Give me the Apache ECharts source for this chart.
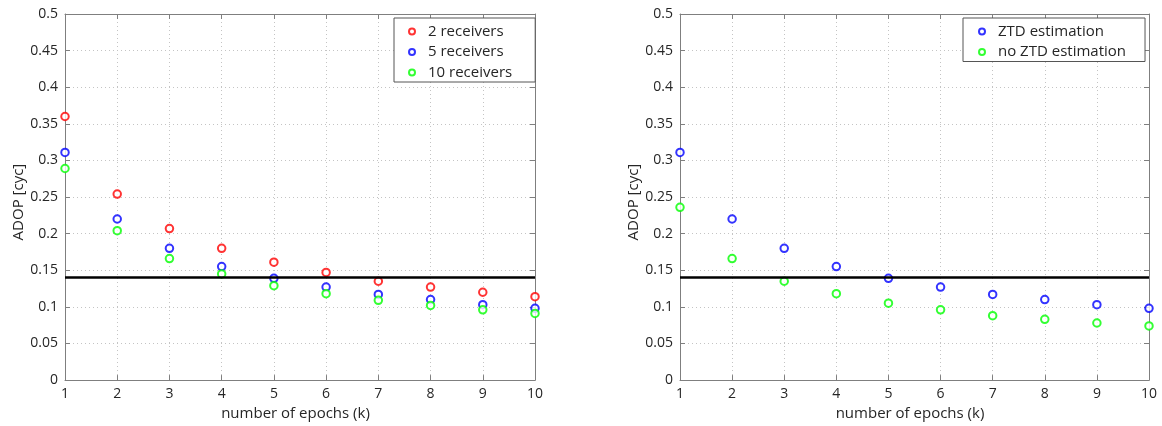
<!DOCTYPE html>
<html>
<head>
<meta charset="utf-8">
<script src="https://cdn.jsdelivr.net/npm/echarts@6/dist/echarts.min.js"></script>
<style>
html,body{margin:0;padding:0;background:#fff;}
#chart{width:1162px;height:426px;}
</style>
</head>
<body>
<div id="chart"></div>
<script>
// ---- data ----
const epochs = [1, 2, 3, 4, 5, 6, 7, 8, 9, 10];
const recv2  = [0.360, 0.254, 0.207, 0.180, 0.161, 0.147, 0.135, 0.127, 0.120, 0.114];
const recv5  = [0.311, 0.220, 0.180, 0.155, 0.139, 0.127, 0.117, 0.110, 0.103, 0.098];
const recv10 = [0.289, 0.204, 0.166, 0.145, 0.129, 0.118, 0.109, 0.102, 0.096, 0.091];
const ztd    = [0.311, 0.220, 0.180, 0.155, 0.139, 0.127, 0.117, 0.110, 0.103, 0.098];
const noZtd  = [0.236, 0.166, 0.135, 0.118, 0.105, 0.096, 0.088, 0.083, 0.078, 0.074];
const threshold = 0.14;
const leftNames = ['2 receivers', '5 receivers', '10 receivers'];
const rightNames = ['ZTD estimation', 'no ZTD estimation'];
const xName = 'number of epochs (k)';
const yName = 'ADOP [cyc]';

const pairs = (ys) => epochs.map((x, i) => [x, ys[i]]);
const FONT = '"Open Sans", "DejaVu Sans", sans-serif';
const TXT = '#262626';
const AX = '#7f7f7f';

function xAx(grid, top) {
  return {
    type: 'value', gridIndex: grid, min: 1, max: 10, interval: 1,
    position: top ? 'top' : 'bottom',
    name: top ? '' : xName, nameLocation: 'middle', nameGap: 23,
    nameTextStyle: { fontFamily: FONT, fontSize: 15, color: TXT, padding: [0, 9, 0, 0] },
    axisLine: { show: true, onZero: false, lineStyle: { color: AX, width: 1 } },
    axisTick: { show: true, inside: true, length: 5, lineStyle: { color: AX } },
    axisLabel: { show: !top, fontFamily: FONT, fontSize: 14, color: TXT, margin: 7 },
    splitLine: { show: !top, lineStyle: { color: '#c4c4c4', type: [1, 3], width: 1 } }
  };
}
function yAx(grid, right) {
  return {
    type: 'value', gridIndex: grid, min: 0, max: 0.5, interval: 0.05,
    position: right ? 'right' : 'left',
    name: right ? '' : yName, nameLocation: 'middle', nameGap: 39, nameRotate: 90,
    nameTextStyle: { fontFamily: FONT, fontSize: 15, color: TXT, padding: [0, 10, 0, 0] },
    axisLine: { show: true, onZero: false, lineStyle: { color: AX, width: 1 } },
    axisTick: { show: true, inside: true, length: 5, lineStyle: { color: AX } },
    axisLabel: { show: !right, fontFamily: FONT, fontSize: 14, color: TXT, margin: 7,
      formatter: v => String(+v.toFixed(2)) },
    splitLine: { show: !right, lineStyle: { color: '#c4c4c4', type: [1, 3], width: 1 } }
  };
}
function sc(name, data, color, xi, yi, withLine) {
  const s = {
    name, type: 'scatter', xAxisIndex: xi, yAxisIndex: yi,
    data: pairs(data), symbol: 'emptyCircle', symbolSize: 7.5,
    itemStyle: { color: color, borderColor: color, borderWidth: 2 },
    emphasis: { disabled: true }, z: 3
  };
  if (withLine) {
    s.markLine = {
      silent: true, symbol: 'none', animation: false,
      label: { show: false },
      lineStyle: { color: '#000', width: 2.5, type: 'solid' },
      data: [{ yAxis: threshold }]
    };
  }
  return s;
}
function legend(names, left, padLeft, padRight) {
  return {
    data: names, orient: 'vertical', left: left, top: 18,
    padding: [6, padRight, 2, padLeft], itemGap: 5.5, itemWidth: 22, itemHeight: 6,
    borderColor: '#555', borderWidth: 1, borderRadius: 0, backgroundColor: '#fff',
    textStyle: { fontFamily: FONT, fontSize: 15, color: TXT, lineHeight: 15 },
    itemStyle: { borderWidth: 2 },
    selectedMode: false
  };
}

const chart = echarts.init(document.getElementById('chart'), null, { renderer: 'canvas' });
chart.setOption({
  animation: false,
  backgroundColor: '#fff',
  grid: [
    { left: 65, top: 14, width: 470, height: 369 },
    { left: 680, top: 14, width: 469, height: 369 }
  ],
  xAxis: [xAx(0, false), xAx(0, true), xAx(1, false), xAx(1, true)],
  yAxis: [yAx(0, false), yAx(0, true), yAx(1, false), yAx(1, true)],
  legend: [legend(leftNames, 394, 14, 23), legend(rightNames, 963, 15, 19)],
  series: [
    sc(leftNames[0], recv2, '#ff0000', 0, 0, true),
    sc(leftNames[1], recv5, '#0000ff', 0, 0, false),
    sc(leftNames[2], recv10, '#00ff00', 0, 0, false),
    sc(rightNames[0], ztd, '#0000ff', 2, 2, true),
    sc(rightNames[1], noZtd, '#00ff00', 2, 2, false)
  ]
});
</script>
</body>
</html>
